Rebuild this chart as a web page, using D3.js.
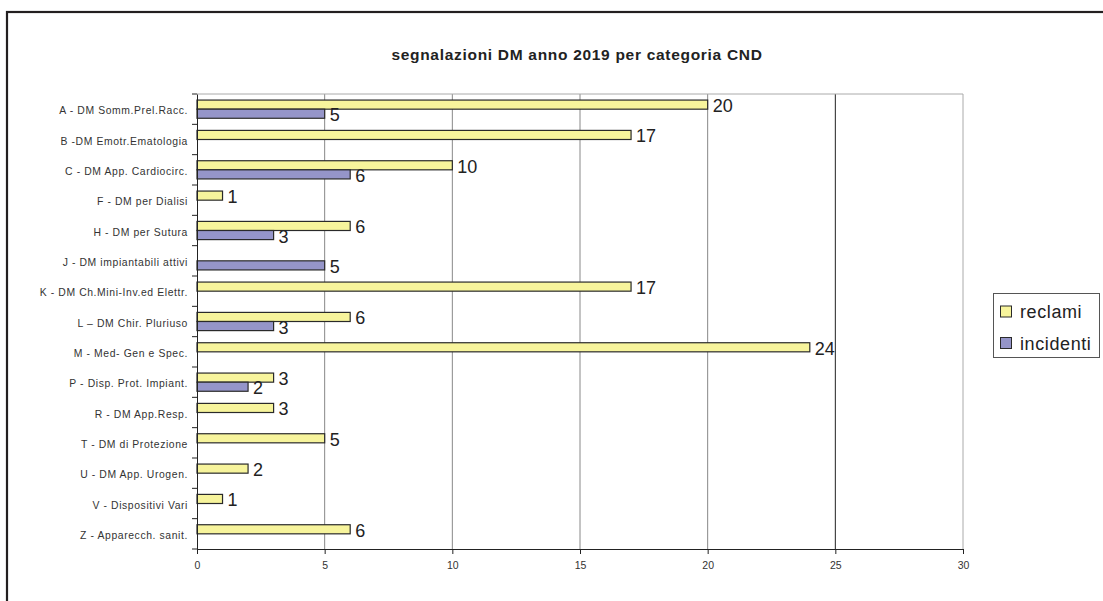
<!DOCTYPE html>
<html>
<head>
<meta charset="utf-8">
<script src="https://cdn.jsdelivr.net/npm/d3@7"></script>
<style>
  body { margin: 0; background: #fff; }
  svg { display: block; font-family: "Liberation Sans", Arial, sans-serif; }
</style>
</head>
<body>
<svg id="chart" width="1103" height="601"></svg>
<script>
// data
const categories = [
    'A - DM Somm.Prel.Racc.',
    'B -DM Emotr.Ematologia',
    'C - DM App. Cardiocirc.',
    'F - DM per Dialisi',
    'H - DM per Sutura',
    'J - DM impiantabili attivi',
    'K - DM Ch.Mini-Inv.ed Elettr.',
    'L \u2013 DM Chir. Pluriuso',
    'M - Med- Gen e Spec.',
    'P - Disp. Prot. Impiant.',
    'R - DM App.Resp.',
    'T - DM di Protezione',
    'U - DM App. Urogen.',
    'V - Dispositivi Vari',
    'Z - Apparecch. sanit.'
];
const reclami = [20, 17, 10, 1, 6, null, 17, 6, 24, 3, 3, 5, 2, 1, 6];
const incidenti = [5, null, 6, null, 3, 5, null, 3, null, 2, null, null, null, null, null];
const seriesNames = ['reclami', 'incidenti'];
const seriesColors = ['#f7f49c', '#9595c9'];
const xTicks = [0, 5, 10, 15, 20, 25, 30];
const title = 'segnalazioni DM anno 2019 per categoria CND';

const svg = d3.select('#chart');
const margin = { left: 197, top: 94, right: 963, bottom: 549 };

// outer frame (only top and left edges visible)
svg.append('rect')
    .attr('x', 7).attr('y', 12)
    .attr('width', 1110).attr('height', 610)
    .attr('fill', 'none')
    .attr('stroke', '#231f20')
    .attr('stroke-width', 2.2);

svg.append('text')
    .attr('x', 577).attr('y', 60)
    .attr('text-anchor', 'middle')
    .attr('font-size', 15.5)
    .attr('font-weight', 'bold')
    .attr('letter-spacing', 0.7)
    .attr('fill', '#222')
    .text(title);

const x = d3.scaleLinear().domain([0, 30]).range([margin.left, margin.right]);
const y = d3.scaleBand().domain(categories)
    .range([margin.top, margin.bottom])
    .paddingInner(0.4).paddingOuter(0.2);
const ySub = d3.scaleBand().domain(seriesNames).range([0, y.bandwidth()]);

// gridlines
svg.append('g')
    .selectAll('line')
    .data(xTicks.filter(t => t > 0))
    .enter().append('line')
    .attr('x1', d => x(d)).attr('x2', d => x(d))
    .attr('y1', margin.top).attr('y2', margin.bottom)
    .attr('stroke', d => d === 25 ? '#222' : (d === 30 ? '#aaa' : '#888'))
    .attr('stroke-width', 1);

// top border of the plot area
svg.append('line')
    .attr('x1', margin.left).attr('x2', margin.right)
    .attr('y1', margin.top).attr('y2', margin.top)
    .attr('stroke', '#aaa');

// bars
const series = [reclami, incidenti];
series.forEach((values, si) => {
    const rows = categories.map((c, i) => ({ cat: c, v: values[i] })).filter(d => d.v != null);
    const g = svg.append('g');
    g.selectAll('rect')
        .data(rows)
        .enter().append('rect')
        .attr('x', x(0))
        .attr('y', d => y(d.cat) + ySub(seriesNames[si]))
        .attr('width', d => x(d.v) - x(0))
        .attr('height', ySub.bandwidth())
        .attr('fill', seriesColors[si])
        .attr('stroke', '#2a2a2a')
        .attr('stroke-width', 1.2);
    g.selectAll('text')
        .data(rows)
        .enter().append('text')
        .attr('x', d => x(d.v) + 5)
        .attr('y', d => y(d.cat) + ySub(seriesNames[si]) + ySub.bandwidth() / 2 + 1.5)
        .attr('dominant-baseline', 'central')
        .attr('font-size', 18)
        .attr('fill', '#222')
        .text(d => d.v);
});

// axes
const yAxis = d3.axisLeft(y).tickSize(0).tickPadding(9);
const gy = svg.append('g').attr('transform', `translate(${margin.left},0)`).call(yAxis);
gy.select('.domain').attr('stroke', '#222');
gy.selectAll('text')
    .attr('font-size', 10.4)
    .attr('letter-spacing', 0.6)
    .attr('dy', '0.48em')
    .attr('fill', '#333')
    .attr('font-family', '"Liberation Sans", Arial, sans-serif');
// tick marks at category boundaries
const bounds = categories.map(c => y(c) - y.step() * y.paddingInner() / 2).concat([margin.bottom]);
svg.append('g').selectAll('line')
    .data(bounds)
    .enter().append('line')
    .attr('x1', margin.left - 5).attr('x2', margin.left)
    .attr('y1', d => d).attr('y2', d => d)
    .attr('stroke', '#222');

const xAxis = d3.axisBottom(x).tickValues(xTicks).tickSize(5).tickPadding(8);
const gx = svg.append('g').attr('transform', `translate(0,${margin.bottom})`).call(xAxis);
gx.select('.domain').attr('stroke', '#222');
gx.selectAll('.tick line').attr('stroke', '#222');
gx.selectAll('text')
    .attr('font-size', 10.5)
    .attr('fill', '#333')
    .attr('font-family', '"Liberation Sans", Arial, sans-serif');

// legend
const legend = svg.append('g');
legend.append('rect')
    .attr('x', 993.5).attr('y', 293.5)
    .attr('width', 106).attr('height', 64)
    .attr('fill', '#fff')
    .attr('stroke', '#555');
seriesNames.forEach((name, i) => {
    legend.append('rect')
        .attr('x', 1000.5).attr('y', 306 + i * 31.5)
        .attr('width', 11).attr('height', 11)
        .attr('fill', seriesColors[i])
        .attr('stroke', '#2a2a2a');
    legend.append('text')
        .attr('x', 1020).attr('y', 312 + i * 31.5)
        .attr('dominant-baseline', 'central')
        .attr('font-size', 18)
        .attr('letter-spacing', 0.6)
        .attr('fill', '#222')
        .text(name);
});
</script>
</body>
</html>
